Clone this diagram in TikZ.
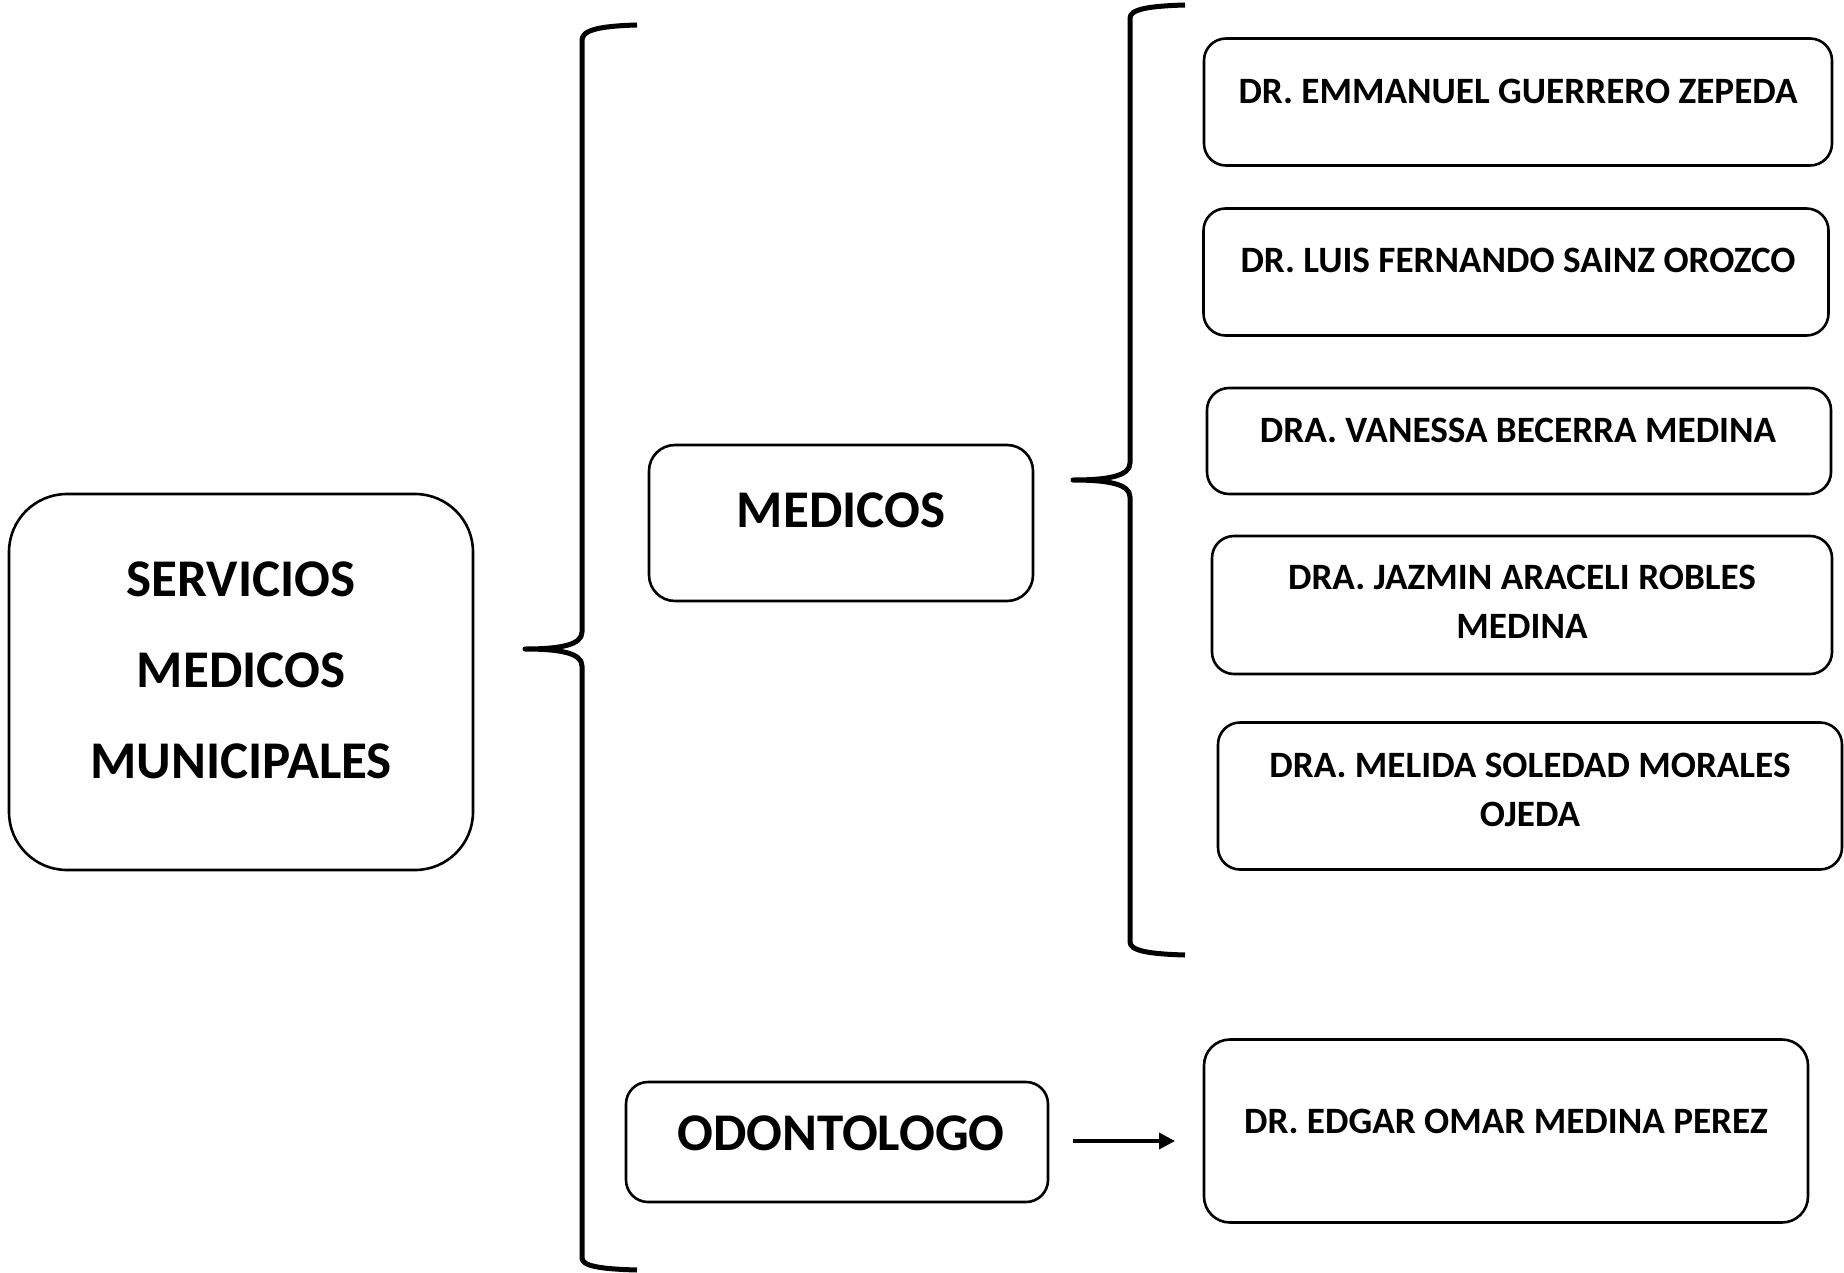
\documentclass[tikz,border=0pt]{standalone}
\usepackage{fontspec}
\setmainfont{Carlito}
\usetikzlibrary{arrows.meta}
\begin{document}
\begin{tikzpicture}[x=1pt,y=-1pt,
  box/.style={draw,line width=2.6pt,rounded corners=22pt,inner sep=0pt},
  ttl/.style={font=\fontsize{53}{72}\selectfont\bfseries,align=center,inner sep=0pt},
  nametxt/.style={font=\fontsize{37.2}{49}\selectfont\bfseries,align=center,inner sep=0pt},
  brace/.style={line width=5pt,line cap=butt,line join=round}]
\useasboundingbox (0,0) rectangle (1844,1273);
% boxes
\node[box,rounded corners=58pt,minimum width=464pt,minimum height=376pt] (smm) at (241,682) {};
\node[ttl,font=\fontsize{53}{91}\selectfont\bfseries] (smmt) at (241,670) {SERVICIOS\\MEDICOS\\MUNICIPALES};
\node[box,rounded corners=26pt,minimum width=384pt,minimum height=156pt] (med) at (841,523) {};
\node[ttl] (medt) at (841,510) {MEDICOS};
\node[box,rounded corners=22pt,minimum width=422pt,minimum height=120pt] (odo) at (837,1142) {};
\node[ttl] (odot) at (841,1133) {ODONTOLOGO};
\node[box,minimum width=628pt,minimum height=127pt] (b1) at (1518,102) {};
\node[nametxt] (b1t) at (1518,91) {DR. EMMANUEL GUERRERO ZEPEDA};
\node[box,minimum width=625pt,minimum height=127pt] (b2) at (1516,272) {};
\node[nametxt] (b2t) at (1518,260) {DR. LUIS FERNANDO SAINZ OROZCO};
\node[box,minimum width=624pt,minimum height=106pt] (b3) at (1519,441) {};
\node[nametxt] (b3t) at (1518,430) {DRA. VANESSA BECERRA MEDINA};
\node[box,minimum width=620pt,minimum height=138pt] (b4) at (1522,605) {};
\node[nametxt] (b4t) at (1522,602) {DRA. JAZMIN ARACELI ROBLES\\MEDINA};
\node[box,minimum width=624pt,minimum height=147pt] (b5) at (1530,796) {};
\node[nametxt] (b5t) at (1530,790) {DRA. MELIDA SOLEDAD MORALES\\OJEDA};
\node[box,rounded corners=26pt,minimum width=604pt,minimum height=183pt] (b6) at (1506,1131) {};
\node[nametxt] (b6t) at (1506,1121) {DR. EDGAR OMAR MEDINA PEREZ};
% braces
\draw[brace] (637,25) .. controls (600,26) and (582,30) .. (582,40) -- (582,632)
  .. controls (582,645) and (560,649) .. (525,649)
  .. controls (560,649) and (582,653) .. (582,666) -- (582,1258)
  .. controls (582,1266) and (600,1269) .. (637,1270);
\draw[brace] (1185,5) .. controls (1150,6) and (1130,9) .. (1130,18) -- (1130,463)
  .. controls (1130,476) and (1108,480) .. (1073,480)
  .. controls (1108,480) and (1130,484) .. (1130,497) -- (1130,942)
  .. controls (1130,951) and (1150,954) .. (1185,955);
% arrow
\coordinate (as) at (1073,1141);
\coordinate (ae) at (1175,1141);
\draw[line width=3.5pt,-{Triangle[length=16pt,width=16pt]}] (as) -- (ae);
\end{tikzpicture}
\end{document}
